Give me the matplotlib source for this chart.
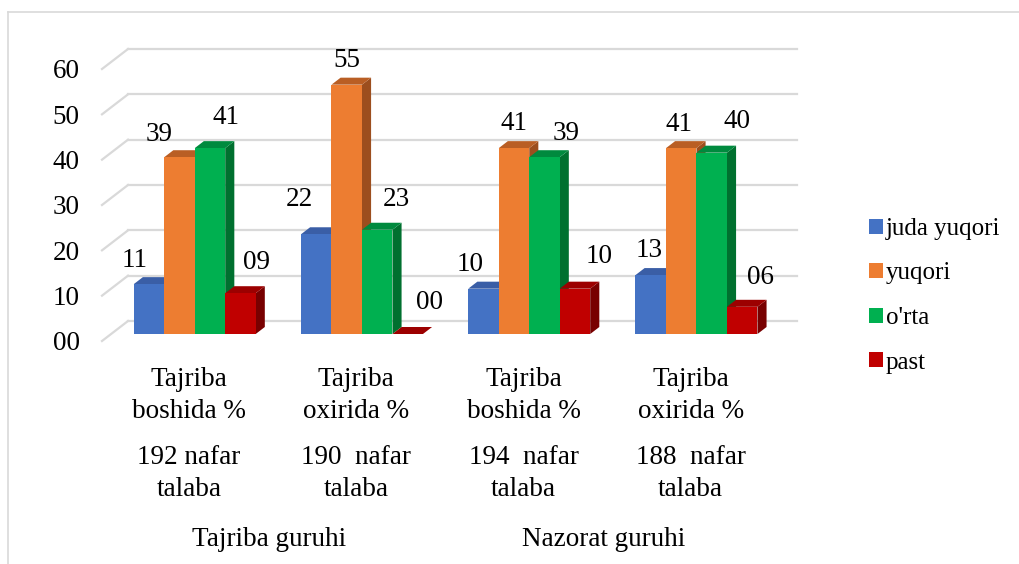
import matplotlib
matplotlib.use('Agg')
import matplotlib.pyplot as plt
from matplotlib.patches import Polygon, Patch
from matplotlib.lines import Line2D

# ---------------- data ----------------
categories = ["Tajriba\nboshida %", "Tajriba\noxirida %", "Tajriba\nboshida %", "Tajriba\noxirida %"]
counts = ["192 nafar\ntalaba", "190  nafar\ntalaba", "194  nafar\ntalaba", "188  nafar\ntalaba"]
groups = ["Tajriba guruhi", "Nazorat guruhi"]
series_names = ["juda yuqori", "yuqori", "o'rta", "past"]
juda_yuqori = [11, 22, 10, 13]
yuqori = [39, 55, 41, 41]
orta = [41, 23, 39, 40]
past = [9, 0, 10, 6]
yticks = [0, 10, 20, 30, 40, 50, 60]
ytick_labels = ["00", "10", "20", "30", "40", "50", "60"]

# ---------------- style / layout ----------------
FONT = "Liberation Serif"
plt.rcParams['font.family'] = 'serif'
plt.rcParams['font.serif'] = [FONT]
front_colors = ["#4472C4", "#ED7D31", "#00B050", "#C00000"]
top_colors = ["#3A5EA6", "#B95E24", "#008A3E", "#9C0000"]
side_colors = ["#2E4D8A", "#9C4E1E", "#00702F", "#780000"]
grid_color = "#D9D9D9"

W = 0.1823          # bar width (category units)
DX, DY = 0.1555, 4.41   # full depth offset (data units)
T0, T1 = 0.35, 0.70     # bar front/back depth fractions

label_dx = [[-14, -20, 16, 16], [-17, 0, 19, 22], [-13, 0, 22, 24], [-2, -2, 25, 18]]
label_dy = [[24, 23, 31, 31], [35, 24, 30, 32], [24, 25, 24, 32], [25, 24, 31, 29]]

values = [juda_yuqori, yuqori, orta, past]

fig = plt.figure(figsize=(10.2, 5.64), dpi=100)
H = 564.0
ax = fig.add_axes([102 / 1020, (H - 341) / H, 669 / 1020, 272 / H])
ax.set_xlim(-0.5, 3.5)
ax.set_ylim(0, 60)
ax.patch.set_visible(False)
for s in ax.spines.values():
    s.set_visible(False)
ax.set_xticks([])
ax.set_yticks(yticks)
ax.set_yticklabels(ytick_labels, fontsize=19.5)
ax.tick_params(axis='y', length=0, pad=16)

# back wall gridlines + side wall diagonals
for v in yticks:
    ax.plot([-0.5, -0.5 + DX], [v, v + DY], color=grid_color, lw=1.6, clip_on=False, zorder=1)
    ax.plot([-0.5 + DX, 3.5 + DX], [v + DY, v + DY], color=grid_color, lw=1.6, clip_on=False, zorder=1)

bdx, bdy = (T1 - T0) * DX, (T1 - T0) * DY
y0 = T0 * DY
for j, vals in enumerate(values):
    xs = [i - 2 * W + j * W + T0 * DX for i in range(len(vals))]
    ax.bar(xs, vals, width=W, bottom=y0, align='edge', color=front_colors[j],
           zorder=3 + j + 0.5, clip_on=False, linewidth=0)
    for i, (x0, h) in enumerate(zip(xs, vals)):
        side = [(x0 + W, y0), (x0 + W + bdx, y0 + bdy), (x0 + W + bdx, y0 + h + bdy), (x0 + W, y0 + h)]
        top = [(x0, y0 + h), (x0 + W, y0 + h), (x0 + W + bdx, y0 + h + bdy), (x0 + bdx, y0 + h + bdy)]
        ax.add_patch(Polygon(side, closed=True, fc=side_colors[j], ec='none', zorder=3 + j, clip_on=False))
        ax.add_patch(Polygon(top, closed=True, fc=top_colors[j], ec='none', zorder=3 + j, clip_on=False))
        ax.annotate(f"{h:02d}", xy=(x0 + W / 2, y0 + h), xytext=(label_dx[i][j], label_dy[i][j]),
                    textcoords='offset pixels', ha='center', va='center', fontsize=19.5,
                    color='black', zorder=10, annotation_clip=False)

# category labels (multi-level)
centers = [i + 0.02 for i in range(len(categories))]
for i, (c, n) in enumerate(zip(categories, counts)):
    ax.annotate(c, xy=(centers[i], H - 395.5), xycoords=('data', 'figure pixels'),
                ha='center', va='center', fontsize=19.5, linespacing=1.4,
                annotation_clip=False)
    ax.annotate(n, xy=(centers[i], H - 473.5), xycoords=('data', 'figure pixels'),
                ha='center', va='center', fontsize=19.5, linespacing=1.4,
                annotation_clip=False)
for g, name in enumerate(groups):
    gx = (2 * g + 2 * g + 1) / 2
    ax.annotate(name, xy=(gx, H - 539), xycoords=('data', 'figure pixels'),
                ha='center', va='center', fontsize=19.5, annotation_clip=False)

# legend
handles = [Patch(facecolor=c, edgecolor='none') for c in front_colors]
fig.legend(handles, series_names, loc='upper left', bbox_to_anchor=(859 / 1020, 1 - 208 / H),
           frameon=False, prop={'size': 18}, handlelength=0.55, handleheight=0.55,
           handletextpad=0.12, labelspacing=0.9, borderaxespad=0)

# outer frame
fig.add_artist(Line2D([8 / 1020, 8 / 1020], [0, 1 - 12 / H], color=grid_color, lw=1.2))
fig.add_artist(Line2D([8 / 1020, 1], [1 - 12 / H, 1 - 12 / H], color=grid_color, lw=1.2))

fig.savefig("out.png", dpi=100)
